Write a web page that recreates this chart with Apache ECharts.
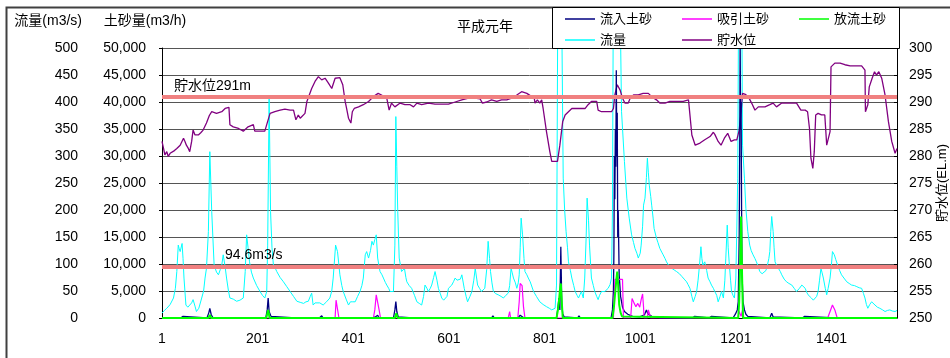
<!DOCTYPE html>
<html><head><meta charset="utf-8">
<script src="https://cdn.jsdelivr.net/npm/echarts@6/dist/echarts.min.js"></script>
<style>html,body{margin:0;padding:0;background:#fff}#c{width:950px;height:358px}</style>
</head><body><div id="c"></div>
<script>
// ---- data (x = hour index 1..1538) ----
const xTickValues = [1, 201, 401, 601, 801, 1001, 1201, 1401];
const seriesNames = ['流入土砂', '吸引土砂', '放流土砂', '流量', '貯水位'];
const refWaterLevel = 291;   // 貯水位291m
const refFlow = 94.6;        // 94.6m3/s

// 流量 (m3/s)
const flowData = [
[1,9],[6,14],[11,18],[18,25],[25,37],[29,55],[32,86],[35,135],[37,128],[39,123],[43,138],[45,110],[47,74],[51,24],[55,20],[59,18],[63,28],[66,34],[70,22],[73,12],[78,18],[84,37],[88,50],[91,74],[94,92],[98,160],[101,308],[105,197],[110,98],[115,85],[119,80],[123,90],[126,98],[129,117],[133,95],[136,74],[140,50],[143,37],[150,35],[157,31],[164,33],[171,37],[175,86],[178,154],[181,130],[184,104],[188,85],[192,74],[199,60],[206,49],[211,42],[216,37],[220,49],[222,135],[225,410],[228,197],[231,130],[234,98],[238,92],[241,86],[248,75],[255,67],[262,58],[269,49],[276,40],[283,31],[290,29],[297,27],[302,30],[307,31],[311,40],[314,46],[317,24],[321,28],[324,31],[331,28],[338,24],[345,30],[352,37],[356,50],[359,74],[364,135],[368,123],[373,80],[377,60],[380,49],[386,35],[391,24],
[395,30],[400,30],[405,30],[410,40],[415,49],[419,60],[422,74],[426,117],[429,123],[433,111],[437,125],[440,142],[443,135],[446,145],[449,154],[452,111],[455,95],[457,86],[461,80],[464,74],[468,66],[471,61],[475,55],[478,49],[482,48],[485,49],[488,135],[490,373],[492,280],[494,197],[497,111],[502,86],[505,88],[508,92],[511,75],[513,67],[518,60],[523,55],[529,42],[534,30],[539,27],[544,24],[548,40],[551,61],[555,55],[558,49],[562,55],[565,61],[569,75],[572,86],[576,70],[579,55],[583,45],[586,37],[590,33],[593,30],[597,40],[600,55],[604,58],[607,61],[611,68],[614,74],[618,70],[621,67],[625,72],[628,80],[633,55],[637,40],[640,30],[645,40],[649,49],[653,70],[656,92],[661,61],[665,55],[669,49],[673,52],[676,55],[680,90],[683,142],[686,110],[688,86],[691,65],[694,49],[699,45],[704,43],[710,40],[715,37],[720,42],[725,46],[728,60],[731,92],[733,85],[736,74],[740,65],[743,55],[746,65],[748,80],[750,130],[752,185],[755,154],[758,110],[760,86],[764,80],[767,74],[771,67],[778,49],[784,40],[791,30],[798,25],[805,21],[811,18],[816,15],[820,16],[823,18],[826,61],[829,650],[836,650],[840,259],[843,200],[846,160],[849,130],[851,104],[855,88],[858,74],[862,60],[865,49],[869,42],[872,37],[875,43],[878,49],[882,37],[885,74],[888,150],[890,222],[893,180],[895,135],[899,74],[903,60],[906,49],[910,40],[913,34],[916,42],[920,49],[924,48],[927,49],[931,52],[934,55],[938,62],[941,74],[943,200],[945,650],[958,650],[962,382],[968,290],[973,222],[978,185],[983,154],[987,140],[990,129],[994,120],[997,111],[1001,120],[1003,135],[1006,170],[1008,209],[1011,222],[1014,260],[1016,296],[1018,270],[1020,246],[1023,225],[1025,209],[1028,185],[1030,166],[1035,148],[1038,140],[1042,129],[1046,122],[1049,117],[1053,110],[1056,104],[1060,98],[1064,95],[1067,92],[1072,89],[1077,86],[1083,82],[1088,77],[1093,72],[1098,67],[1101,62],[1105,55],[1109,40],[1112,30],[1116,40],[1119,49],[1122,70],[1125,98],[1128,132],[1130,110],[1132,98],[1136,104],[1140,88],[1143,74],[1147,67],[1150,61],[1154,55],[1157,49],[1161,42],[1164,30],[1168,40],[1171,49],[1175,37],[1178,70],[1180,111],[1183,172],[1185,130],[1187,104],[1190,70],[1192,49],[1195,42],[1198,37],[1201,74],[1205,259],[1207,650],[1213,650],[1215,320],[1219,259],[1222,203],[1226,160],[1230,135],[1233,125],[1237,117],[1241,110],[1244,104],[1248,95],[1251,86],[1256,82],[1260,80],[1264,88],[1267,98],[1270,110],[1272,123],[1274,160],[1276,188],[1279,160],[1281,130],[1283,104],[1287,96],[1290,92],[1294,86],[1297,80],[1302,72],[1307,67],[1312,64],[1318,61],[1323,55],[1328,49],[1334,55],[1339,61],[1343,58],[1346,55],[1349,48],[1352,43],[1356,40],[1359,37],[1363,33],[1366,30],[1370,40],[1373,49],[1376,70],[1379,92],[1381,85],[1384,74],[1388,55],[1391,43],[1394,55],[1398,74],[1401,100],[1403,123],[1407,117],[1410,108],[1414,98],[1418,88],[1422,80],[1427,74],[1433,67],[1438,64],[1443,61],[1449,60],[1454,58],[1459,56],[1464,55],[1468,45],[1471,37],[1474,25],[1477,18],[1481,25],[1485,30],[1488,27],[1492,24],[1497,20],[1502,18],[1508,15],[1513,12],[1518,14],[1523,15],[1528,13],[1534,12],[1538,14]
];

// 貯水位 (EL.m)
const waterLevelData = [
[1,282.7],[4,281.5],[7,280.2],[11,280.8],[14,279.9],[18,280.5],[21,280.8],[27,281.0],[32,281.4],[39,282.0],[46,283.3],[49,282.7],[52,282.0],[56,281.4],[59,280.8],[63,282.7],[66,284.8],[70,283.9],[77,283.9],[82,284.3],[87,284.8],[94,286.1],[100,287.5],[105,288.2],[115,287.9],[126,288.2],[133,288.8],[141,289.0],[143,285.8],[150,285.4],[161,285.1],[171,284.6],[181,285.4],[192,285.8],[195,284.6],[206,284.6],[216,284.6],[220,285.8],[227,287.9],[237,288.2],[248,288.5],[258,288.7],[269,288.5],[276,288.5],[281,286.7],[286,287.6],[290,287.0],[293,287.3],[300,287.9],[304,290.1],[314,292.5],[321,293.8],[328,294.7],[335,294.1],[342,294.4],[349,293.5],[356,292.5],[363,294.4],[373,294.5],[379,293.2],[384,290.1],[387,288.8],[391,287.0],[396,286.1],[399,288.2],[403,288.8],[412,289.1],[422,289.5],[433,290.1],[443,291.0],[453,291.6],[460,291.3],[471,290.7],[476,288.5],[481,289.8],[488,289.1],[499,289.8],[509,289.5],[520,289.5],[527,289.1],[534,289.8],[544,289.5],[558,289.8],[572,289.6],[586,289.6],[600,289.6],[614,290.0],[628,290.4],[642,290.7],[655,290.7],[666,290.6],[671,289.8],[680,290.0],[690,290.4],[701,290.1],[711,290.4],[722,290.4],[732,290.7],[743,291.3],[753,291.9],[764,291.6],[774,291.0],[779,291.0],[781,289.8],[786,290.4],[791,289.8],[795,290.4],[798,288.8],[805,284.5],[812,280.8],[816,279.0],[823,279.0],[828,279.0],[833,282.0],[839,286.4],[844,287.6],[851,288.2],[858,288.8],[868,288.8],[879,288.8],[886,288.8],[892,289.5],[899,290.1],[910,290.1],[913,288.5],[920,288.2],[931,288.2],[941,288.2],[945,288.8],[948,291.3],[953,293.2],[959,292.2],[964,290.7],[969,289.8],[976,289.8],[980,290.7],[987,291.3],[997,291.3],[1007,291.6],[1018,291.6],[1025,291.0],[1035,290.4],[1042,289.8],[1053,289.8],[1063,290.1],[1077,290.1],[1091,290.1],[1102,290.4],[1105,290.7],[1109,283.9],[1116,282.0],[1126,282.4],[1136,283.0],[1147,283.6],[1154,284.4],[1157,284.0],[1164,282.7],[1170,282.0],[1177,283.3],[1184,284.2],[1191,282.7],[1198,283.0],[1203,283.0],[1208,284.8],[1212,288.2],[1215,291.6],[1221,291.4],[1227,291.0],[1234,289.8],[1241,288.5],[1248,289.1],[1262,289.1],[1272,289.5],[1279,289.8],[1286,289.1],[1297,289.8],[1311,289.8],[1328,289.8],[1337,288.5],[1346,288.5],[1351,288.2],[1355,285.1],[1358,279.6],[1362,277.7],[1365,280.8],[1368,287.6],[1373,287.9],[1380,287.6],[1387,287.6],[1391,282.0],[1394,281.7],[1398,284.5],[1400,296.5],[1408,297.2],[1419,297.2],[1429,296.9],[1440,296.7],[1450,296.7],[1464,296.7],[1471,295.9],[1472,288.2],[1477,289.5],[1480,292.8],[1486,294.4],[1491,295.6],[1495,295.0],[1500,295.6],[1506,294.4],[1513,291.3],[1520,286.4],[1527,282.7],[1534,280.5],[1538,281.4]
];

// 流入土砂 (m3/h)
const inflowSediment = [
[1,0],[40,0],[45,300],[48,0],[95,0],[99,1000],[101,1800],[104,600],[108,0],[138,0],[140,200],[142,0],[173,0],[175,250],[178,0],[218,0],[221,1500],[223,3700],[225,1200],[229,300],[233,0],[280,0],[283,300],[285,0],[298,0],[300,200],[302,0],[330,0],[335,400],[338,0],[363,0],[365,200],[368,0],[440,0],[447,200],[452,500],[455,0],[485,0],[488,1500],[490,3050],[492,1200],[495,200],[498,0],[525,0],[528,300],[531,0],[600,0],[603,300],[606,0],[690,0],[693,400],[696,0],[745,0],[750,500],[753,300],[758,0],[790,0],[793,200],[796,0],[826,0],[829,2000],[831,3700],[833,1500],[835,13200],[837,2500],[839,800],[842,200],[846,0],[870,0],[873,400],[876,0],[895,0],[898,300],[901,0],[940,0],[943,1500],[945,5000],[946,12000],[947,30000],[948,22000],[949,35000],[950,28000],[951,45900],[952,30000],[953,38000],[954,15000],[955,20000],[957,8000],[960,4000],[964,2000],[968,1200],[975,700],[985,300],[1000,200],[1010,600],[1014,1500],[1017,800],[1021,900],[1025,300],[1035,200],[1045,0],[1110,0],[1115,300],[1118,0],[1145,0],[1150,300],[1153,0],[1195,0],[1200,700],[1204,1500],[1206,3000],[1208,15000],[1209,30000],[1210,52000],[1211,35000],[1212,40000],[1213,20000],[1214,8000],[1216,3000],[1219,1500],[1222,700],[1226,300],[1230,0],[1272,0],[1276,900],[1279,200],[1282,0],[1340,0],[1345,300],[1348,0],[1410,0],[1413,300],[1416,0],[1520,0],[1523,200],[1526,0],[1538,0]
];

// 吸引土砂 (m3/h)
const suctionSediment = [
[1,0],[363,0],[365,3300],[369,3000],[371,0],[443,0],[446,1500],[449,4300],[452,4000],[455,1500],[458,0],[725,0],[728,1200],[730,0],[745,0],[748,3000],[750,6400],[754,6000],[757,2000],[760,0],[945,0],[948,7150],[964,7150],[966,0],[981,0],[984,3600],[988,2800],[992,2100],[996,2700],[1000,2000],[1003,3400],[1006,4450],[1008,2000],[1009,0],[1016,0],[1018,1500],[1021,1500],[1023,0],[1205,0],[1208,1200],[1212,300],[1215,1500],[1218,0],[1393,0],[1403,2400],[1408,1500],[1413,0],[1538,0]
];

// 放流土砂 (m3/h)
const dischargeSediment = [
[1,0],[98,0],[101,560],[104,0],[219,0],[223,1500],[226,0],[488,0],[491,870],[494,0],[826,0],[829,1500],[831,3000],[833,5000],[835,6400],[837,3000],[839,0],[943,0],[946,2000],[949,5000],[951,7000],[953,8600],[955,6000],[957,2500],[960,1000],[963,300],[966,0],[1206,0],[1208,3000],[1210,10000],[1212,18800],[1214,8000],[1216,0],[1538,0]
];

const FONT = '"Liberation Sans", "Noto Sans CJK JP", sans-serif';
const FS = 14;
const chart = echarts.init(document.getElementById('c'), null, {renderer: 'canvas'});

const refLine = (axisVal, text, pad, dist) => ({
  silent: true, symbol: 'none', animation: false,
  lineStyle: {color: '#F08080', width: 4, type: 'solid'},
  label: {show: true, position: 'insideStartTop', formatter: text, color: '#000',
    fontSize: FS, fontFamily: FONT, padding: [0, 0, 0, pad], distance: dist},
  emphasis: {disabled: true},
  data: [{yAxis: axisVal}]
});

const baseLine = {type: 'line', symbol: 'none', showSymbol: false, animation: false, clip: true, emphasis: {disabled: true}};

chart.setOption({
  animation: false,
  textStyle: {fontFamily: FONT},
  title: {text: '平成元年', left: 452, top: 15,
    textStyle: {fontSize: FS, fontWeight: 'normal', color: '#000', fontFamily: FONT}},
  graphic: [
    {type: 'rect', z: 0, silent: true, shape: {x: 6.5, y: 7.5, width: 1000, height: 400},
      style: {fill: null, stroke: '#404040', lineWidth: 2}},
    {type: 'rect', z: 50, silent: true, shape: {x: 552.5, y: 7.5, width: 347, height: 41},
      style: {fill: '#fff', stroke: '#000', lineWidth: 1}}
  ],
  legend: {
    z: 60, left: 565, top: 10, width: 360, padding: 0,
    data: seriesNames, icon: 'rect', itemWidth: 30, itemHeight: 1.5, itemGap: 3,
    textStyle: {fontSize: 13, color: '#000', fontFamily: FONT, width: 79, lineHeight: 18},
    selectedMode: false
  },
  grid: {left: 162, right: 53, top: 48, bottom: 40, containLabel: false, outerBoundsMode: 'none'},
  xAxis: {
    type: 'value', min: 1, max: 1538,
    axisLine: {show: true, lineStyle: {color: '#000'}},
    axisTick: {show: false},
    splitLine: {show: false},
    axisLabel: {customValues: xTickValues, formatter: v => String(v), fontSize: FS, color: '#000', margin: 14, fontFamily: FONT}
  },
  yAxis: [
    {type: 'value', min: 0, max: 500, interval: 50, position: 'left', offset: 68,
      name: '流量(m3/s)', nameLocation: 'end', nameGap: 20,
      nameTextStyle: {fontSize: FS, color: '#000', align: 'right', padding: [0, 12, 0, 0], fontFamily: FONT},
      axisLine: {show: false}, axisTick: {show: false},
      axisLabel: {fontSize: FS, color: '#000', margin: 16, fontFamily: FONT},
      splitLine: {show: true, lineStyle: {color: '#555', width: 1}}},
    {type: 'value', min: 0, max: 50000, interval: 5000, position: 'left', offset: 0,
      name: '土砂量(m3/h)', nameLocation: 'end', nameGap: 20,
      nameTextStyle: {fontSize: FS, color: '#000', align: 'center', padding: [0, 34, 0, 0], fontFamily: FONT},
      axisLine: {show: true, lineStyle: {color: '#000'}},
      axisTick: {show: true, length: 3, lineStyle: {color: '#000'}},
      axisLabel: {fontSize: FS, color: '#000', margin: 16, fontFamily: FONT},
      splitLine: {show: false}},
    {type: 'value', min: 250, max: 300, interval: 5, position: 'right',
      name: '貯水位(EL.m)', nameLocation: 'middle', nameGap: 39, nameRotate: 90, nameMoveOverlap: false,
      nameTextStyle: {fontSize: 13, color: '#000', fontFamily: FONT},
      axisLine: {show: true, lineStyle: {color: '#000'}},
      axisTick: {show: true, inside: true, length: 3, lineStyle: {color: '#000'}},
      axisLabel: {fontSize: FS, color: '#000', margin: 12, fontFamily: FONT},
      splitLine: {show: false}}
  ],
  series: [
    Object.assign({}, baseLine, {name: '流量', yAxisIndex: 0, data: flowData,
      lineStyle: {color: '#00FFFF', width: 1}, itemStyle: {color: '#00FFFF'},
      markLine: refLine(refFlow, '94.6m3/s', 58, 5)}),
    Object.assign({}, baseLine, {name: '貯水位', yAxisIndex: 2, data: waterLevelData,
      lineStyle: {color: '#800080', width: 1.3}, itemStyle: {color: '#800080'},
      markLine: refLine(refWaterLevel, '貯水位291m', 9, 3)}),
    Object.assign({}, baseLine, {name: '流入土砂', yAxisIndex: 1, data: inflowSediment,
      lineStyle: {color: '#000080', width: 1.3}, itemStyle: {color: '#000080'}}),
    Object.assign({}, baseLine, {name: '吸引土砂', yAxisIndex: 1, data: suctionSediment,
      lineStyle: {color: '#FF00FF', width: 1.2}, itemStyle: {color: '#FF00FF'}}),
    Object.assign({}, baseLine, {name: '放流土砂', yAxisIndex: 1, data: dischargeSediment,
      lineStyle: {color: '#00FF00', width: 2}, itemStyle: {color: '#00FF00'}})
  ]
});
</script></body></html>
